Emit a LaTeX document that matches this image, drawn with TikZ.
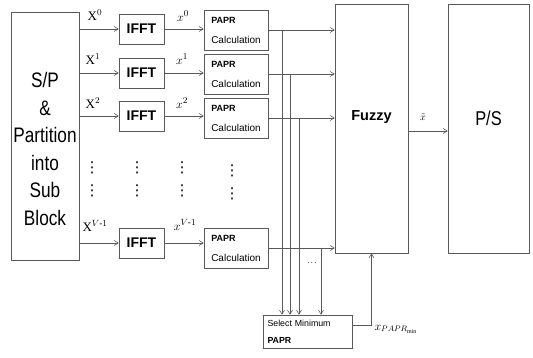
\documentclass[tikz,border=0pt]{standalone}
\usepackage{amsmath}
\usepackage{fontspec}
\setmainfont{Liberation Serif}
\setsansfont{Liberation Sans}
\newfontfamily\narrowsf[FakeStretch=0.82]{Liberation Sans}
\newfontfamily\symfont{DejaVu Sans}
\usetikzlibrary{arrows.meta}

\begin{document}
\begin{tikzpicture}[x=1pt, y=-1pt,
    box/.style={draw=black!65, line width=0.6pt, inner sep=0pt},
    arr/.style={draw=black!65, line width=0.6pt, -{Straight Barb[length=4pt,width=5pt]}},
    lbl/.style={font=\fontsize{13}{13}\selectfont, inner sep=0pt},
    papr/.style={box, minimum width=64pt, minimum height=40pt, align=left, font=\sffamily\fontsize{10}{20}\selectfont},
    ifft/.style={box, minimum width=45pt, minimum height=30pt, font=\sffamily\bfseries\fontsize{14}{16}\selectfont},
    dts/.style={font=\symfont\fontsize{15}{15}\selectfont, inner sep=0pt}]
    \useasboundingbox (0,0) rectangle (533,358);

    % Input block
    \node[box, minimum width=68pt, minimum height=248pt] (sp) at (45,136) {};
    \node[font=\narrowsf\fontsize{21}{27.6}\selectfont, align=center] (sptxt) at (45,149) {S/P\\\&\\Partition\\into\\Sub\\Block};

    % IFFT blocks
    \node[ifft] (ifft0) at (141.5,29) {IFFT};
    \node[ifft] (ifft1) at (141.5,73) {IFFT};
    \node[ifft] (ifft2) at (141.5,116) {IFFT};
    \node[ifft] (ifft3) at (141.5,243) {IFFT};

    % PAPR calculation blocks
    \node[papr] (papr0) at (236,30) {\textbf{\small PAPR}\\Calculation};
    \node[papr] (papr1) at (236,74) {\textbf{\small PAPR}\\Calculation};
    \node[papr] (papr2) at (236,118) {\textbf{\small PAPR}\\Calculation};
    \node[papr] (papr3) at (236,248) {\textbf{\small PAPR}\\Calculation};

    % Fuzzy and P/S
    \node[box, minimum width=73pt, minimum height=249pt] (fuzzy) at (371.5,128.5) {};
    \node[font=\sffamily\bfseries\fontsize{14.5}{16}\selectfont] (fuzzytxt) at (371.5,117) {Fuzzy};
    \node[box, minimum width=81pt, minimum height=249pt] (ps) at (488.5,128.5) {};
    \node[font=\narrowsf\fontsize{20}{22}\selectfont] (pstxt) at (488.5,118) {P/S};

    % Selection block
    \node[box, minimum width=89pt, minimum height=33pt, text width=80pt, align=left, font=\sffamily\fontsize{8.8}{17}\selectfont] (sel) at (307.5,331.5) {Select Minimum\\\textbf{PAPR}};

    % Labels
    \node[lbl] (X0) at (95,15) {$\mathrm{X}^{0}$};
    \node[lbl] (X1) at (93,59) {$\mathrm{X}^{1}$};
    \node[lbl] (X2) at (93,103) {$\mathrm{X}^{2}$};
    \node[lbl] (X3) at (95,226) {$\mathrm{X}^{V\text{-}1}$};
    \node[lbl] (x0) at (183,16) {$x^{0}$};
    \node[lbl] (x1) at (182,59) {$x^{1}$};
    \node[lbl] (x2) at (182,103) {$x^{2}$};
    \node[lbl] (x3) at (185,225) {$x^{V\text{-}1}$};
    \node[font=\fontsize{10}{10}\selectfont] (xt) at (423,117) {$\tilde{x}$};
    \node[font=\fontsize{12}{12}\selectfont] (xmin) at (396,329) {$x_{PAPR_{\min}}$};
    \node[font=\fontsize{8}{8}\selectfont] (more) at (312,263) {.\,.\,.};

    % Vertical dots
    \node[dts] (va0) at (92,168) {⋮};
    \node[dts] (vb0) at (92,191) {⋮};
    \node[dts] (va1) at (137,168) {⋮};
    \node[dts] (vb1) at (137,191) {⋮};
    \node[dts] (va2) at (182,168) {⋮};
    \node[dts] (vb2) at (182,191) {⋮};
    \node[dts] (va3) at (232,171) {⋮};
    \node[dts] (vb3) at (232,194) {⋮};

    % Drop points
    \coordinate (d0) at (282,0);
    \coordinate (d1) at (290,0);
    \coordinate (d2) at (299,0);
    \coordinate (d3) at (321,0);

    % Edges
    \draw[arr] (sp.east |- ifft0) -- (ifft0);
    \draw[arr] (sp.east |- ifft1) -- (ifft1);
    \draw[arr] (sp.east |- ifft2) -- (ifft2);
    \draw[arr] (sp.east |- ifft3) -- (ifft3);
    \draw[arr] (ifft0.east) -- (ifft0.east -| papr0.west);
    \draw[arr] (ifft1.east) -- (ifft1.east -| papr1.west);
    \draw[arr] (ifft2.east) -- (ifft2.east -| papr2.west);
    \draw[arr] (ifft3.east) -- (ifft3.east -| papr3.west);
    \draw[arr] (papr0.east) -- (papr0.east -| fuzzy.west);
    \draw[arr] (papr1.east) -- (papr1.east -| fuzzy.west);
    \draw[arr] (papr2.east) -- (papr2.east -| fuzzy.west);
    \draw[arr] (papr3.east) -- (papr3.east -| fuzzy.west);
    \draw[arr] (papr0.east -| d0) -- (d0 |- sel.north);
    \draw[arr] (papr1.east -| d1) -- (d1 |- sel.north);
    \draw[arr] (papr2.east -| d2) -- (d2 |- sel.north);
    \draw[arr] (papr3.east -| d3) -- (d3 |- sel.north);
    \draw[arr] ([yshift=-2.5pt]fuzzy.east) -- ([yshift=-2.5pt]fuzzy.east -| ps.west);
    \draw[arr] ([yshift=6pt]sel.east) -| (fuzzy.south);
\end{tikzpicture}
\end{document}
